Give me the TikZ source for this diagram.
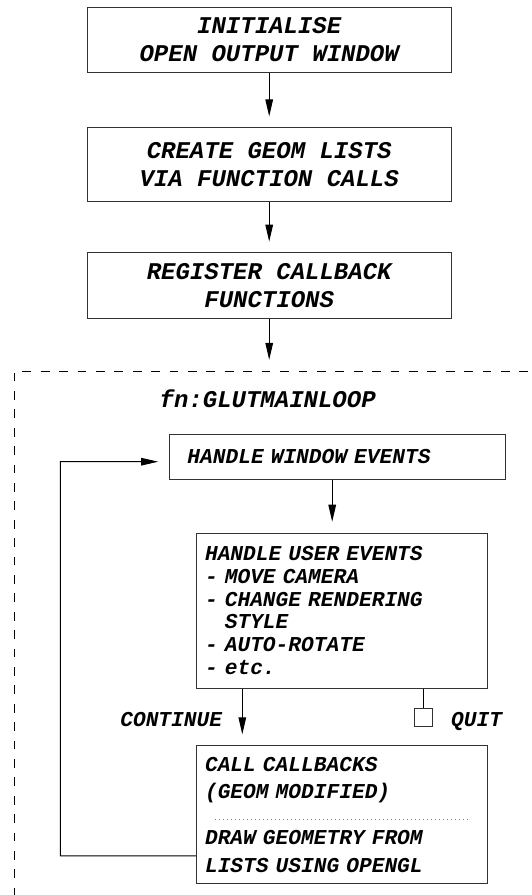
\documentclass[tikz,border=0pt]{standalone}
\usepackage{fontspec}
\newfontfamily\codefont{Liberation Mono}[WordSpace={1,0,0}]
\usetikzlibrary{arrows.meta}
\newcommand\bigcode{\codefont\bfseries\itshape\fontsize{12}{13.9}\selectfont}
\newcommand\smallcode{\codefont\bfseries\itshape\fontsize{10.6}{11.4}\selectfont}
\newcommand\callcode{\codefont\bfseries\itshape\fontsize{10.6}{13.7}\selectfont}

\begin{document}
\begin{tikzpicture}[x=0.5pt,y=-0.5pt,line width=0.5pt,
        >={Triangle[length=8.5pt,width=3.8pt]},
        stepbox/.style={draw=black!80, font=\bigcode, align=center, inner sep=0pt, minimum width=181.8pt},
        loopbox/.style={draw=black!80, font=\smallcode, align=left, inner ysep=0pt},
        looptext/.style={font=\smallcode, inner sep=0pt},
        flow/.style={->, shorten >=5.4pt},
        framedash/.style={draw=black, line width=0.6pt, dash pattern=on 4.4pt off 4.8pt},
        sepdots/.style={draw=black!50, line width=0.4pt, dash pattern=on 0.4pt off 1.6pt}]
        \useasboundingbox (0,0) rectangle (531,895);
        \clip (0,0) rectangle (531,895);

        \node[stepbox, minimum height=32.4pt] (init) at (269.2,39.8) {INITIALISE\\OPEN OUTPUT WINDOW};
        \node[stepbox, minimum height=37pt] (geom) at (269.2,164.7) {CREATE GEOM LISTS\\VIA FUNCTION CALLS};
        \node[stepbox, minimum height=32.7pt] (register) at (269.2,285.6) {REGISTER CALLBACK\\FUNCTIONS};
        \coordinate (loopentry) at (269.2,359.8);

        % main loop frame
        \draw[framedash] (14.2,915) |- (560,371.3);
        \node[font=\bigcode, inner sep=0pt, anchor=base] (mainloop) at (267.7,407.9) {fn:GLUTMAINLOOP};

        \node[loopbox, inner xsep=9pt, text width=149.8pt, minimum height=22.65pt] (window) at (337.2,456.7) {HANDLE WINDOW EVENTS};
        \node[loopbox, inner xsep=4.25pt, text width=136.75pt, minimum height=77.5pt] (user) at (341.8,610.5) {
            HANDLE USER EVENTS\\
            - MOVE CAMERA\\
            - CHANGE RENDERING\\
            \hphantom{- }STYLE\\
            - AUTO-ROTATE\\
            - etc.
        };
        \node[loopbox, font=\callcode, inner xsep=4.25pt, text width=136.75pt, minimum height=68.95pt] (callbacks) at (341.8,814.75) {
            CALL CALLBACKS\\
            (GEOM MODIFIED)\\[9.2pt]
            DRAW GEOMETRY FROM\\
            LISTS USING OPENGL
        };
        \draw[sepdots] ([xshift=9.65pt,yshift=-2.3pt]callbacks.west) -- ([xshift=-10.05pt,yshift=-2.3pt]callbacks.east);

        \node[looptext, anchor=base east] (continue) at (222.6,726.2) {CONTINUE};
        \node[draw=black!80, minimum size=9.15pt, inner sep=0pt] (quitbox) at (423.5,717.75) {};
        \node[looptext, anchor=base west] (quit) at (450.6,726) {QUIT};
        \coordinate (loopcorner) at (60.3,855.9);

        \draw[flow] (init) -- (geom);
        \draw[flow] (geom) -- (register);
        \draw[->] (register) -- (loopentry);
        \draw[flow] ([xshift=-2.5pt]window.south) -- ([xshift=-2.5pt]window.south |- user.north);
        \draw[flow, shorten >=5.5pt] ([xshift=-49.75pt]user.south) -- ([xshift=-49.75pt]callbacks.north);
        \draw ([xshift=40.85pt]user.south) -- (quitbox);
        \draw[flow] ([yshift=-20.6pt]callbacks.west) -- (loopcorner) |- ([yshift=-2.5pt]window.west);
    \end{tikzpicture}
\end{document}
